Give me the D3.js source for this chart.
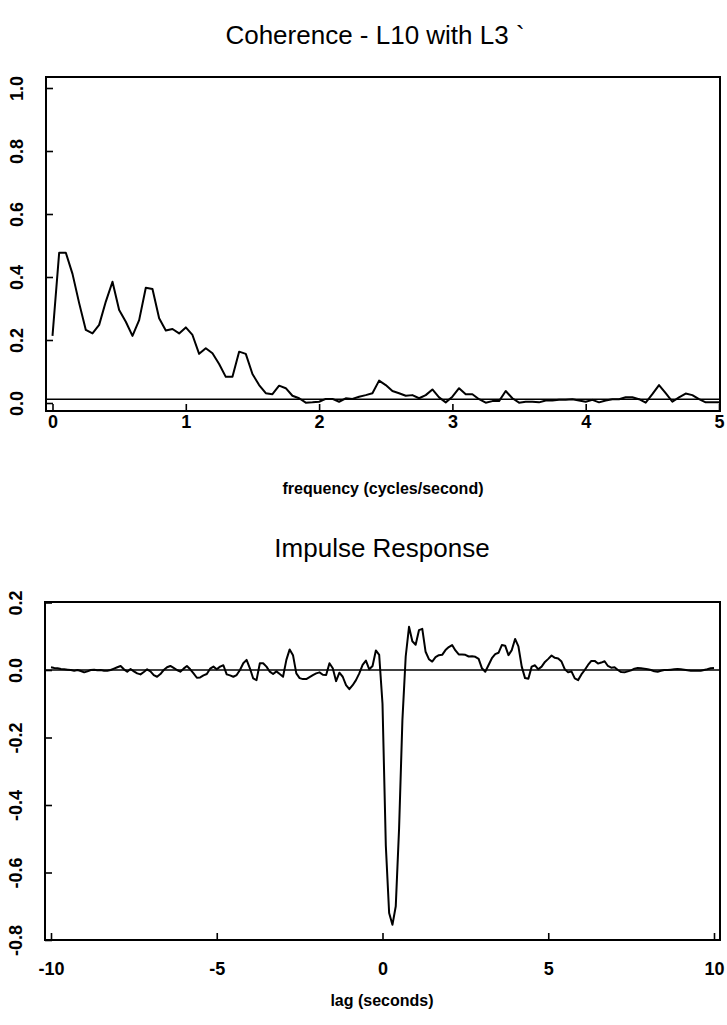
<!DOCTYPE html>
<html>
<head>
<meta charset="utf-8">
<script src="https://cdn.jsdelivr.net/npm/d3@7"></script>
<style>
  html, body { margin: 0; padding: 0; background: #fff; }
  svg { display: block; font-family: "Liberation Sans", Arial, Helvetica, sans-serif; }
</style>
</head>
<body>
<svg id="chart" width="727" height="1025"></svg>
<script>
// ---------- data ----------
const cohTitle = "Coherence - L10 with L3 `";
const cohXLabel = "frequency (cycles/second)";
const cohFreqStep = 0.05;
const cohValues = [
  0.213, 0.477, 0.477, 0.410, 0.317, 0.232, 0.221, 0.248, 0.322, 0.385,
  0.295, 0.258, 0.213, 0.263, 0.366, 0.362, 0.269, 0.230, 0.235, 0.221,
  0.240, 0.216, 0.156, 0.174, 0.158, 0.124, 0.083, 0.083, 0.163, 0.156,
  0.092, 0.057, 0.031, 0.028, 0.055, 0.047, 0.023, 0.015, 0.001, 0.002,
  0.004, 0.013, 0.013, 0.004, 0.015, 0.013, 0.020, 0.025, 0.031, 0.071,
  0.057, 0.038, 0.031, 0.023, 0.025, 0.015, 0.025, 0.043, 0.018, 0.002,
  0.020, 0.047, 0.028, 0.028, 0.012, 0.001, 0.006, 0.006, 0.038, 0.015,
  0.001, 0.004, 0.004, 0.002, 0.008, 0.008, 0.010, 0.010, 0.012, 0.008,
  0.004, 0.010, 0.002, 0.008, 0.012, 0.012, 0.018, 0.018, 0.012, 0.001,
  0.028, 0.057, 0.031, 0.004, 0.018, 0.030, 0.025, 0.012, 0.002, 0.002,
  0.002
];
const cohRefLevel = 0.012;
const cohXTicks = [0, 1, 2, 3, 4, 5];
const cohYTicks = [0.0, 0.2, 0.4, 0.6, 0.8, 1.0];

const irTitle = "Impulse Response";
const irXLabel = "lag (seconds)";
const irLagStart = -10;
const irLagStep = 0.1;
const irValues = [
  0.008, 0.006, 0.005, 0.003, 0.002, 0.001, 0.000, -0.002, 0.000, -0.003,
  -0.007, -0.004, 0.000, 0.001, -0.001, 0.000, -0.002, -0.002, 0.000, 0.004,
  0.008, 0.012, 0.002, -0.005, 0.003, -0.004, -0.010, -0.013, -0.006, 0.002,
  -0.004, -0.015, -0.020, -0.012, 0.000, 0.008, 0.012, 0.006, 0.000, -0.005,
  0.004, 0.012, 0.002, -0.010, -0.023, -0.022, -0.016, -0.012, 0.004, 0.010,
  0.002, 0.010, 0.014, -0.013, -0.016, -0.020, -0.015, 0.000, 0.020, 0.030,
  0.005, -0.025, -0.030, 0.020, 0.020, 0.010, -0.005, -0.012, -0.004, -0.012,
  -0.020, 0.030, 0.061, 0.044, -0.010, -0.024, -0.027, -0.027, -0.021, -0.015,
  -0.010, -0.007, -0.014, -0.015, 0.020, 0.005, -0.033, -0.008, -0.020, -0.045,
  -0.057, -0.045, -0.030, -0.010, 0.015, 0.028, 0.002, 0.012, 0.058, 0.045,
  -0.100, -0.520, -0.720, -0.755, -0.700, -0.470, -0.150, 0.040, 0.128, 0.085,
  0.075, 0.118, 0.122, 0.054, 0.032, 0.025, 0.038, 0.044, 0.045, 0.059,
  0.068, 0.074, 0.058, 0.046, 0.046, 0.045, 0.040, 0.041, 0.039, 0.033,
  0.005, -0.005, 0.015, 0.035, 0.047, 0.051, 0.074, 0.072, 0.044, 0.059,
  0.092, 0.070, 0.010, -0.024, -0.026, 0.010, 0.014, 0.002, 0.010, 0.024,
  0.033, 0.043, 0.036, 0.034, 0.025, 0.002, -0.007, -0.004, -0.025, -0.030,
  -0.013, 0.000, 0.015, 0.027, 0.027, 0.019, 0.022, 0.026, 0.012, 0.007,
  0.008, 0.000, -0.006, -0.007, -0.004, -0.001, 0.004, 0.006, 0.005, 0.004,
  0.002, 0.000, -0.004, -0.005, -0.002, 0.000, 0.000, 0.001, 0.002, 0.003,
  0.002, 0.001, -0.001, -0.002, -0.002, -0.002, -0.002, 0.000, 0.002, 0.005,
  0.006
];
const irRefLevel = 0;
const irXTicks = [-10, -5, 0, 5, 10];
const irYTicks = [-0.8, -0.6, -0.4, -0.2, 0.0, 0.2];

// ---------- drawing ----------
const svg = d3.select("#chart");
const locale = d3.formatLocale({ decimal: ".", thousands: ",", grouping: [3], currency: ["", ""], minus: "-" });
const fmtX = locale.format("d");
const fmtY = locale.format(".1f");
const FONT = "Liberation Sans, Arial, Helvetica, sans-serif";

function panel(cfg) {
  const g = svg.append("g");
  const x = d3.scaleLinear().domain(cfg.xDomain).range(cfg.xRange);
  const y = d3.scaleLinear().domain(cfg.yDomain).range(cfg.yRange);

  // box
  g.append("rect")
    .attr("x", cfg.box[0]).attr("y", cfg.box[1])
    .attr("width", cfg.box[2] - cfg.box[0]).attr("height", cfg.box[3] - cfg.box[1])
    .attr("fill", "none").attr("stroke", "#000").attr("stroke-width", 2);

  // x axis (ticks inward)
  const xAxis = d3.axisBottom(x).tickValues(cfg.xTicks).tickFormat(fmtX)
    .tickSizeInner(-7).tickSizeOuter(0).tickPadding(cfg.xPad);
  const xa = g.append("g").attr("transform", `translate(0,${cfg.box[3]})`).call(xAxis);
  xa.select(".domain").remove();
  xa.selectAll(".tick line").attr("stroke", "#000").attr("stroke-width", 1.6);
  xa.selectAll(".tick text").attr("font-size", 18).attr("font-weight", "bold")
    .attr("fill", "#000").attr("font-family", FONT);

  // y axis (ticks inward, rotated labels)
  const yAxis = d3.axisLeft(y).tickValues(cfg.yTicks).tickFormat(fmtY)
    .tickSizeInner(-7).tickSizeOuter(0).tickPadding(0);
  const ya = g.append("g").attr("transform", `translate(${cfg.box[0]},0)`).call(yAxis);
  ya.select(".domain").remove();
  ya.selectAll(".tick line").attr("stroke", "#000").attr("stroke-width", 1.6);
  ya.selectAll(".tick text")
    .attr("font-size", 18).attr("font-weight", "bold").attr("fill", "#000")
    .attr("font-family", FONT)
    .attr("text-anchor", "middle").attr("x", null)
    .attr("transform", "translate(-29,0) rotate(-90)")
    .attr("dy", "0.36em");

  // reference line
  g.append("line")
    .attr("x1", cfg.box[0]).attr("x2", cfg.box[2])
    .attr("y1", y(cfg.ref)).attr("y2", y(cfg.ref))
    .attr("stroke", "#000").attr("stroke-width", 1.5);

  // data line
  const line = d3.line().x(d => x(d[0])).y(d => y(d[1]));
  g.append("path").datum(cfg.data).attr("d", line)
    .attr("fill", "none").attr("stroke", "#000").attr("stroke-width", 2)
    .attr("stroke-linejoin", "round");

  // titles
  g.append("text").attr("x", cfg.titlePos[0]).attr("y", cfg.titlePos[1])
    .attr("text-anchor", "middle").attr("font-size", 26).attr("fill", "#000")
    .attr("font-family", FONT).text(cfg.title);
  g.append("text").attr("x", cfg.xlabPos[0]).attr("y", cfg.xlabPos[1])
    .attr("text-anchor", "middle").attr("font-size", 16).attr("font-weight", "bold")
    .attr("font-family", FONT).attr("fill", "#000").text(cfg.xlab);
}

const cohData = cohValues.map((v, i) => [i * cohFreqStep, v]);
const irData = irValues.map((v, i) => [irLagStart + i * irLagStep, v]);

panel({
  data: cohData, ref: cohRefLevel,
  xDomain: [0, 5], xRange: [52.5, 719],
  yDomain: [0, 1], yRange: [403, 88],
  box: [46, 77, 720, 411],
  xTicks: cohXTicks, yTicks: cohYTicks, xPad: 4,
  title: cohTitle, titlePos: [375, 44],
  xlab: cohXLabel, xlabPos: [383, 494]
});

panel({
  data: irData, ref: irRefLevel,
  xDomain: [-10, 10], xRange: [51, 714],
  yDomain: [-0.8, 0.2], yRange: [940, 602.5],
  box: [45, 602, 720, 940],
  xTicks: irXTicks, yTicks: irYTicks, xPad: 22,
  title: irTitle, titlePos: [382, 557],
  xlab: irXLabel, xlabPos: [382, 1006]
});
</script>
</body>
</html>
